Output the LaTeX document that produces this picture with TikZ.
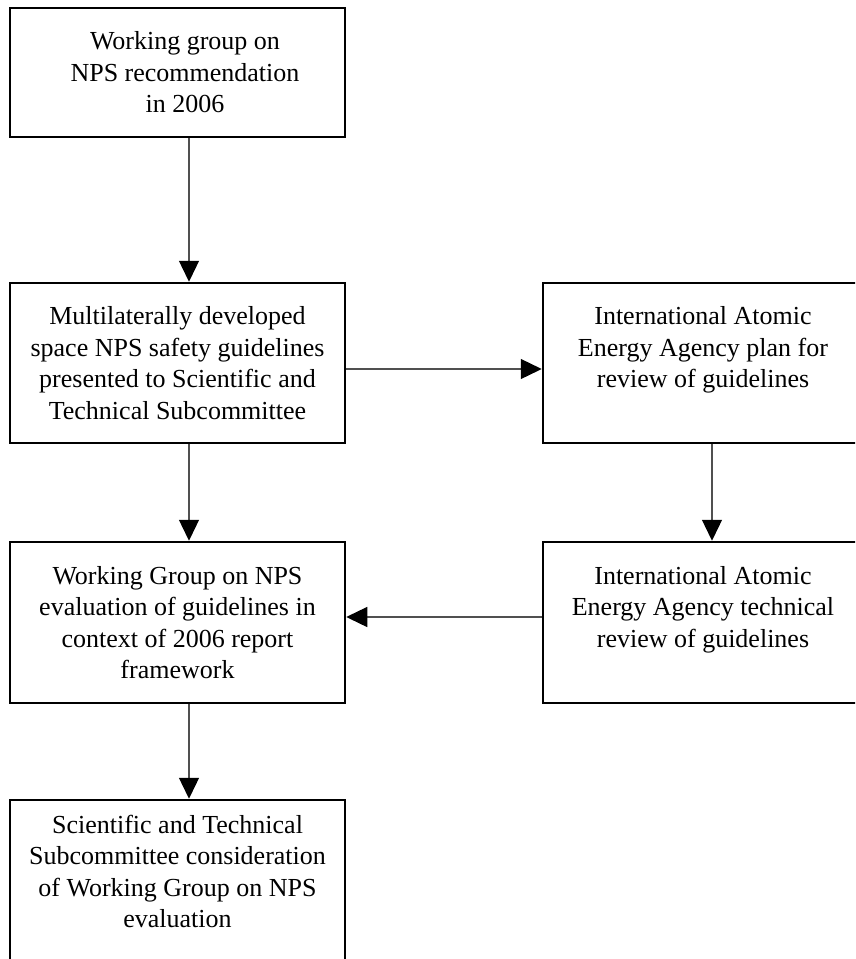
\documentclass[tikz,border=0pt]{standalone}
\usepackage{fontspec}
\setmainfont{Liberation Serif}
\usetikzlibrary{arrows.meta}
\definecolor{lineg}{RGB}{80,80,80}
\begin{document}
\begin{tikzpicture}[x=1pt,y=-1pt,
  box/.style={draw=black, line width=2.5pt, minimum width=335pt, align=center,
    font=\fontsize{26}{31.5}\selectfont, inner sep=0pt},
  rbox/.style={box, minimum width=320pt, minimum height=160pt},
  arr/.style={draw=lineg, line width=1.3pt, -{Triangle[length=21pt,width=20pt,color=black]}}]
\path[use as bounding box] (0,0) rectangle (855,959);
\clip (0,0) rectangle (855,959);
\node[box, minimum height=129pt] (b1) at (177.5,72.5)
  {\hspace*{15pt}Working group on\\\hspace*{15pt}NPS recommendation\\\hspace*{15pt}in 2006};
\node[box, minimum height=160pt] (b2) at (177.5,363)
  {Multilaterally developed\\space NPS safety guidelines\\presented to Scientific and\\Technical Subcommittee};
\node[rbox] (b3) at (703,363)
  {International Atomic\\Energy Agency plan for\\review of guidelines\\~};
\node[box, minimum height=161pt] (b4) at (177.5,622.5)
  {Working Group on NPS\\evaluation of guidelines in\\context of 2006 report\\framework};
\node[rbox, minimum height=161pt] (b5) at (703,622.5)
  {International Atomic\\Energy Agency technical\\review of guidelines\\~};
\node[box, anchor=north, inner ysep=15pt] (b6) at (177.5,798.75)
  {Scientific and Technical\\Subcommittee consideration\\of Working Group on NPS\\evaluation\rule[-60pt]{0pt}{60pt}};
\coordinate (lc) at (189,0);
\coordinate (rc) at (712,0);
\coordinate (h1) at (0,369);
\coordinate (h2) at (0,617);
\draw[arr] (b1.south -| lc) -- (b2.north -| lc);
\draw[arr] (b2.south -| lc) -- (b4.north -| lc);
\draw[arr] (b4.south -| lc) -- (b6.north -| lc);
\draw[arr] (b3.south -| rc) -- (b5.north -| rc);
\draw[arr] (b2.east |- h1) -- (b3.west |- h1);
\draw[arr] (b5.west |- h2) -- (b4.east |- h2);
\end{tikzpicture}
\end{document}
